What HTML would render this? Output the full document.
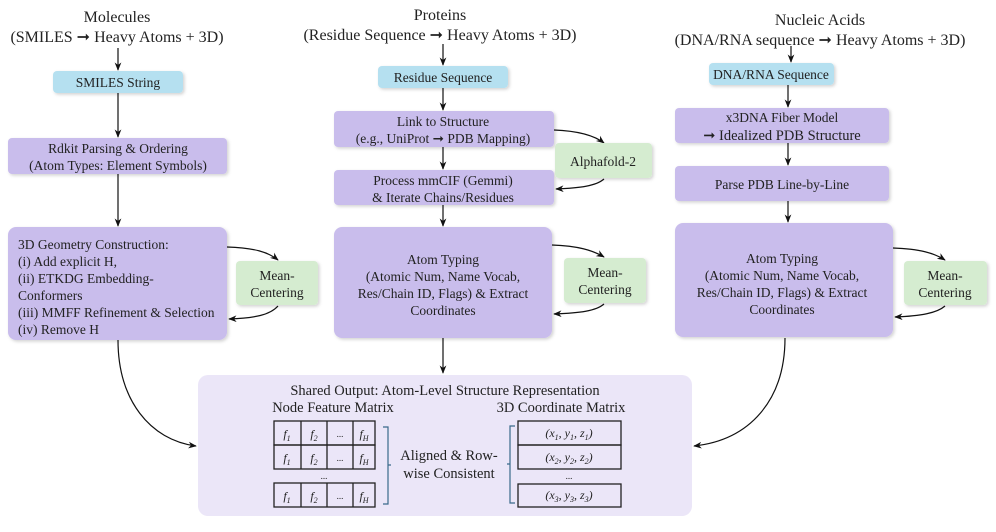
<!DOCTYPE html>
<html><head><meta charset="utf-8"><style>
html,body{margin:0;padding:0;background:#fff;font-family:"Liberation Serif","Times New Roman",Times,serif;}
svg, svg text, svg tspan{font-family:"Liberation Serif","Times New Roman",Times,serif;}
text{fill:#222;}
</style></head><body>
<svg width="996" height="527" viewBox="0 0 996 527" xmlns="http://www.w3.org/2000/svg" font-family="Liberation Serif, Times New Roman, serif">
<defs>
<marker id="a" viewBox="0 0 10 10" refX="9" refY="5" markerWidth="7" markerHeight="7" orient="auto"><path d="M0,1 L10,5 L0,9 L3,5 z" fill="#111"/></marker>
<filter id="s" x="-10%" y="-10%" width="125%" height="130%"><feDropShadow dx="1.5" dy="1.5" stdDeviation="1.5" flood-color="#000" flood-opacity="0.18"/></filter>
</defs>
<g font-size="16" text-anchor="middle">
<text x="117" y="22">Molecules</text>
<text x="117" y="42">(SMILES ➞ Heavy Atoms + 3D)</text>
<text x="440" y="20">Proteins</text>
<text x="440" y="40">(Residue Sequence ➞ Heavy Atoms + 3D)</text>
<text x="820" y="25">Nucleic Acids</text>
<text x="820" y="45">(DNA/RNA sequence ➞ Heavy Atoms + 3D)</text>
</g>
<g stroke="#111" stroke-width="1.2" fill="none" marker-end="url(#a)">
<line x1="118" y1="48" x2="118" y2="70"/>
<line x1="118" y1="93" x2="118" y2="137"/>
<line x1="118" y1="174" x2="118" y2="226"/>
<line x1="443" y1="44" x2="443" y2="65"/>
<line x1="443" y1="88" x2="443" y2="110"/>
<line x1="443" y1="147" x2="443" y2="169"/>
<line x1="443" y1="205" x2="443" y2="226"/>
<line x1="443" y1="338" x2="443" y2="373"/>
<line x1="791" y1="46" x2="791" y2="62"/>
<line x1="788" y1="85" x2="788" y2="107"/>
<line x1="788" y1="143" x2="788" y2="165"/>
<line x1="788" y1="201" x2="788" y2="222"/>
<path d="M227,247 C255,248 268,252 278,260"/>
<path d="M278,306 C270,315 255,318 229,319"/>
<path d="M554,130 C580,131 595,136 604,143"/>
<path d="M604,179 C596,186 580,188 556,189"/>
<path d="M552,245 C578,246 592,250 604,257"/>
<path d="M604,304 C596,311 580,313 554,314"/>
<path d="M893,248 C920,249 934,253 945,260"/>
<path d="M945,306 C937,313 921,316 895,317"/>
<path d="M118,340 C118,400 150,440 196,446"/>
<path d="M785,338 C785,400 750,440 694,446"/>
</g>
<g filter="url(#s)">
<rect x="53" y="71" width="130" height="22" rx="4" fill="#b5e0f0"/>
<rect x="378" y="66" width="130" height="22" rx="4" fill="#b5e0f0"/>
<rect x="709" y="63" width="125" height="22" rx="4" fill="#b5e0f0"/>
<rect x="8" y="138" width="219" height="36" rx="4" fill="#c9bdec"/>
<rect x="8" y="227" width="219" height="113" rx="8" fill="#c9bdec"/>
<rect x="334" y="111" width="220" height="36" rx="4" fill="#c9bdec"/>
<rect x="334" y="170" width="220" height="35" rx="4" fill="#c9bdec"/>
<rect x="334" y="227" width="218" height="111" rx="8" fill="#c9bdec"/>
<rect x="675" y="108" width="214" height="35" rx="4" fill="#c9bdec"/>
<rect x="675" y="166" width="214" height="35" rx="4" fill="#c9bdec"/>
<rect x="675" y="223" width="218" height="114" rx="8" fill="#c9bdec"/>
<rect x="236" y="261" width="82" height="44" rx="4" fill="#d5ecd0"/>
<rect x="555" y="143" width="97" height="35" rx="4" fill="#d5ecd0"/>
<rect x="564" y="258" width="82" height="45" rx="4" fill="#d5ecd0"/>
<rect x="904" y="261" width="83" height="44" rx="4" fill="#d5ecd0"/>
</g>
<rect x="198" y="375" width="494" height="141" rx="10" fill="#ebe6f8"/>
<g font-size="13.5" text-anchor="middle">
<text x="118" y="87">SMILES String</text>
<text x="443" y="82">Residue Sequence</text>
<text x="771" y="79">DNA/RNA Sequence</text>
<text x="118" y="153">Rdkit Parsing &amp; Ordering</text>
<text x="118" y="170">(Atom Types: Element Symbols)</text>
<text x="443" y="126">Link to Structure</text>
<text x="443" y="143">(e.g., UniProt ➞ PDB Mapping)</text>
<text x="443" y="185">Process mmCIF (Gemmi)</text>
<text x="443" y="202">&amp; Iterate Chains/Residues</text>
<text x="782" y="122">x3DNA Fiber Model</text>
<text x="782" y="140" font-size="14.5">➞ Idealized PDB Structure</text>
<text x="782" y="189">Parse PDB Line-by-Line</text>
<text x="603" y="166">Alphafold-2</text>
<text x="277" y="280">Mean-</text><text x="277" y="297">Centering</text>
<text x="605" y="277">Mean-</text><text x="605" y="294">Centering</text>
<text x="945" y="280">Mean-</text><text x="945" y="297">Centering</text>
<text x="443" y="264">Atom Typing</text>
<text x="443" y="281">(Atomic Num, Name Vocab,</text>
<text x="443" y="298">Res/Chain ID, Flags) &amp; Extract</text>
<text x="443" y="315">Coordinates</text>
<text x="782" y="263">Atom Typing</text>
<text x="782" y="280">(Atomic Num, Name Vocab,</text>
<text x="782" y="297">Res/Chain ID, Flags) &amp; Extract</text>
<text x="782" y="314">Coordinates</text>
</g>
<g font-size="13.5">
<text x="18" y="249">3D Geometry Construction:</text>
<text x="18" y="266">(i) Add explicit H,</text>
<text x="18" y="283">(ii) ETKDG Embedding-</text>
<text x="18" y="300">Conformers</text>
<text x="18" y="317">(iii) MMFF Refinement &amp; Selection</text>
<text x="18" y="334">(iv) Remove H</text>
</g>
<g font-size="14.5" text-anchor="middle">
<text x="445" y="395">Shared Output: Atom-Level Structure Representation</text>
<text x="333" y="412">Node Feature Matrix</text>
<text x="561" y="412">3D Coordinate Matrix</text>
<text x="449" y="460">Aligned &amp; Row-</text>
<text x="449" y="478">wise Consistent</text>
</g>
<g fill="none" stroke="#222" stroke-width="1.3">
<rect x="274" y="421" width="101" height="24"/><rect x="274" y="445" width="101" height="24"/><rect x="274" y="483" width="101" height="24"/>
<path d="M301,421V469M327,421V469M353,421V469M301,483V507M327,483V507M353,483V507"/>
<rect x="518" y="421" width="103" height="24"/><rect x="518" y="445" width="103" height="24"/><rect x="518" y="484" width="103" height="23"/>
</g>
<g fill="none" stroke="#3a6a8a" stroke-width="1.2">
<path d="M383,427 h5 v77 h-5 M388,465 h3"/>
<path d="M515,426 h-5 v77 h5 M510,464 h-3"/>
</g>
<g font-size="12" text-anchor="middle" font-style="italic">
<text x="287" y="438">f<tspan font-size="8" dy="3">1</tspan></text>
<text x="314" y="438">f<tspan font-size="8" dy="3">2</tspan></text>
<text x="340" y="437" font-style="normal" font-size="9">...</text>
<text x="364" y="438">f<tspan font-size="8" dy="3">H</tspan></text>
<text x="287" y="462">f<tspan font-size="8" dy="3">1</tspan></text>
<text x="314" y="462">f<tspan font-size="8" dy="3">2</tspan></text>
<text x="340" y="461" font-style="normal" font-size="9">...</text>
<text x="364" y="462">f<tspan font-size="8" dy="3">H</tspan></text>
<text x="324" y="479" font-style="normal" font-size="9">...</text>
<text x="287" y="500">f<tspan font-size="8" dy="3">1</tspan></text>
<text x="314" y="500">f<tspan font-size="8" dy="3">2</tspan></text>
<text x="340" y="499" font-style="normal" font-size="9">...</text>
<text x="364" y="500">f<tspan font-size="8" dy="3">H</tspan></text>
<text x="569" y="437">(x<tspan font-size="8" dy="3">1</tspan><tspan dy="-3">, y</tspan><tspan font-size="8" dy="3">1</tspan><tspan dy="-3">, z</tspan><tspan font-size="8" dy="3">1</tspan><tspan dy="-3">)</tspan></text>
<text x="569" y="461">(x<tspan font-size="8" dy="3">2</tspan><tspan dy="-3">, y</tspan><tspan font-size="8" dy="3">2</tspan><tspan dy="-3">, z</tspan><tspan font-size="8" dy="3">2</tspan><tspan dy="-3">)</tspan></text>
<text x="569" y="479" font-style="normal" font-size="9">...</text>
<text x="569" y="499">(x<tspan font-size="8" dy="3">3</tspan><tspan dy="-3">, y</tspan><tspan font-size="8" dy="3">3</tspan><tspan dy="-3">, z</tspan><tspan font-size="8" dy="3">3</tspan><tspan dy="-3">)</tspan></text>
</g>
</svg>
</body></html>
